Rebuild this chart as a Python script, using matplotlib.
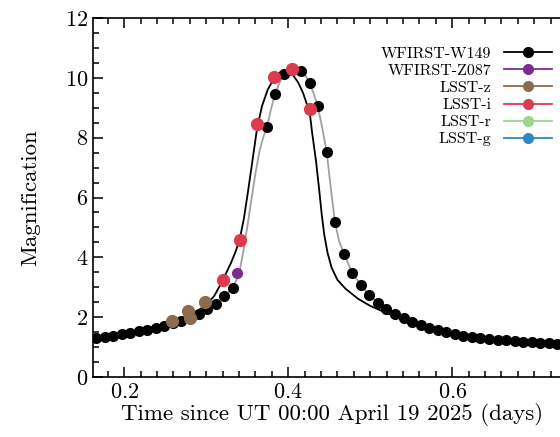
import matplotlib
matplotlib.use("Agg")
import matplotlib.pyplot as plt
from matplotlib.ticker import MultipleLocator

plt.rcParams["font.family"] = "serif"
plt.rcParams["font.serif"] = ["cmr10", "DejaVu Serif"]
plt.rcParams["axes.formatter.use_mathtext"] = True
plt.rcParams["mathtext.fontset"] = "cm"

# WFIRST-W149 photometry (15 min cadence, gap around 0.34-0.37)
w149_t = [0.1657, 0.1761, 0.1865, 0.1970, 0.2074, 0.2178, 0.2282, 0.2386,
          0.2490, 0.2595, 0.2699, 0.2803, 0.2907, 0.3011, 0.3115, 0.3219,
          0.3324,
          0.3740, 0.3844, 0.3948, 0.4052, 0.4156, 0.4260, 0.4365, 0.4469,
          0.4573, 0.4677, 0.4781, 0.4885, 0.4990, 0.5094, 0.5198, 0.5302,
          0.5406, 0.5510, 0.5615, 0.5719, 0.5823, 0.5927, 0.6031, 0.6135,
          0.6240, 0.6344, 0.6448, 0.6552, 0.6656, 0.6760, 0.6865, 0.6969,
          0.7073, 0.7177, 0.7281]
w149_a = [1.30, 1.34, 1.38, 1.43, 1.48, 1.53, 1.58, 1.65,
          1.72, 1.80, 1.89, 1.99, 2.12, 2.27, 2.45, 2.70,
          2.98,
          8.34, 9.46, 10.12, 10.27, 10.23, 9.82, 9.05, 7.51,
          5.18, 4.13, 3.47, 3.07, 2.73, 2.47, 2.27, 2.10,
          1.97, 1.84, 1.74, 1.65, 1.57, 1.50, 1.44, 1.39,
          1.35, 1.31, 1.28, 1.25, 1.23, 1.21, 1.19, 1.17,
          1.15, 1.14, 1.12]

# WFIRST-Z087
z087_t = [0.337]
z087_a = [3.48]

# LSST-z
lsst_z_t = [0.258, 0.278, 0.280, 0.299]
lsst_z_a = [1.86, 2.22, 1.98, 2.52]

# LSST-i
lsst_i_t = [0.320, 0.341, 0.362, 0.383, 0.4045, 0.426]
lsst_i_a = [3.26, 4.57, 8.46, 10.01, 10.30, 8.96]

# model through W149 (grey)
fit_t = [0.162, 0.20, 0.25, 0.28, 0.30, 0.32, 0.333, 0.340, 0.345, 0.350,
         0.355, 0.360, 0.365, 0.370, 0.374, 0.379, 0.384, 0.390, 0.395,
         0.400, 0.405, 0.411, 0.416, 0.421, 0.426, 0.431, 0.436, 0.441,
         0.447, 0.452, 0.457, 0.462, 0.468, 0.478, 0.489, 0.499, 0.52,
         0.55, 0.60, 0.65, 0.70, 0.76]
fit_a = [1.29, 1.44, 1.75, 2.02, 2.26, 2.64, 3.00, 3.45, 4.15, 5.00,
         5.90, 6.80, 7.55, 8.05, 8.34, 8.95, 9.46, 9.88, 10.12,
         10.24, 10.27, 10.27, 10.23, 10.08, 9.82, 9.48, 9.05, 8.40,
         7.51, 6.30, 5.18, 4.55, 4.13, 3.47, 3.07, 2.73, 2.27,
         1.82, 1.41, 1.25, 1.16, 1.10]

# true model (black)
model_t = [0.162, 0.20, 0.25, 0.28, 0.30, 0.31, 0.32, 0.330, 0.336, 0.341,
           0.346, 0.351, 0.356, 0.362, 0.368, 0.375, 0.383, 0.390, 0.398,
           0.405, 0.412, 0.418, 0.423, 0.426, 0.429, 0.434, 0.438, 0.441,
           0.444, 0.448, 0.453, 0.460, 0.470, 0.485, 0.500, 0.52, 0.55,
           0.60, 0.65, 0.70, 0.76]
model_a = [1.30, 1.45, 1.77, 2.06, 2.40, 2.72, 3.22, 3.80, 4.20, 4.62,
           5.30, 6.20, 7.15, 8.30, 9.05, 9.60, 10.00, 10.18, 10.23,
           10.12, 9.85, 9.50, 9.10, 8.90, 8.20, 7.20, 6.20, 5.40,
           4.75, 4.15, 3.65, 3.25, 2.95, 2.62, 2.38, 2.14, 1.84,
           1.45, 1.26, 1.16, 1.10]

fig = plt.figure(figsize=(5.6, 4.37), dpi=100)
ax = fig.add_axes([0.166, 0.137, 0.876, 0.822])

ax.plot(model_t, model_a, color="black", lw=1.3, zorder=2)
ax.plot(fit_t, fit_a, color="#a0a0a0", lw=1.3, zorder=2)

ax.plot(w149_t, w149_a, "o", color="black", ms=7, zorder=3)
ax.plot(z087_t, z087_a, "o", color="#7b2d8e", ms=7, zorder=4)
ax.plot(lsst_z_t, lsst_z_a, "o", color="#8c6b4f", ms=8.5, zorder=4)
ax.plot(lsst_i_t, lsst_i_a, "o", color="#dc3a4f", ms=8.5, zorder=4)

# legend handles
series = [("WFIRST-W149", "black"), ("WFIRST-Z087", "#7b2d8e"),
          ("LSST-z", "#8c6b4f"), ("LSST-i", "#dc3a4f"),
          ("LSST-r", "#9bd68c"), ("LSST-g", "#2f88c6")]
handles = [plt.Line2D([], [], color=c, marker="o", ms=7, lw=1.3)
           for _, c in series]
fig.legend(handles, [s for s, _ in series], loc="upper right",
           bbox_to_anchor=(0.986, 0.893), frameon=False, markerfirst=False,
           fontsize=11.5, handlelength=3.0, labelspacing=0.18,
           handletextpad=0.8, borderpad=0, borderaxespad=0)

ax.set_xlim(0.162, 0.76)
ax.set_ylim(0, 12)
ax.xaxis.set_major_locator(MultipleLocator(0.2))
ax.xaxis.set_minor_locator(MultipleLocator(0.02))
ax.yaxis.set_major_locator(MultipleLocator(2))
ax.yaxis.set_minor_locator(MultipleLocator(0.5))
ax.tick_params(which="both", direction="in", top=True, right=False,
               labelsize=16, width=1.1)
ax.tick_params(which="major", length=7)
ax.tick_params(which="minor", length=4)
for s in ax.spines.values():
    s.set_linewidth(1.2)

ax.set_xlabel("Time since UT 00:00 April 19 2025 (days)", fontsize=16.5,
              labelpad=1)
ax.xaxis.label.set_x(0.487)
ax.set_ylabel("Magnification", fontsize=16.5, labelpad=18)

fig.savefig("out.png", dpi=100)
